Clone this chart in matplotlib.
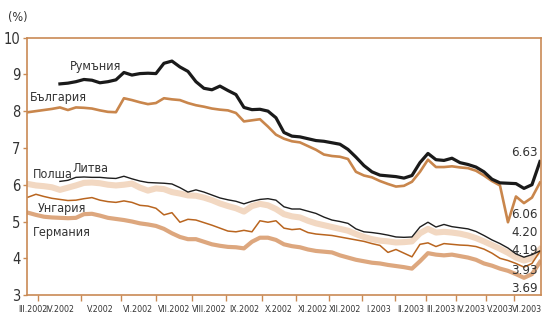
import numpy as np
import matplotlib
matplotlib.use("Agg")
import matplotlib.pyplot as plt

nan = np.nan

# стойности, отчетени от графиката (седмични точки)
rumania = [nan, nan, nan, nan,
           8.74, 8.76, 8.80, 8.86, 8.84, 8.77, 8.80, 8.85, 9.05, 8.98,
           9.02, 9.03, 9.02, 9.30, 9.36, 9.20, 9.08, 8.80, 8.62, 8.58,
           8.68, 8.56, 8.45, 8.10, 8.04, 8.05, 8.00, 7.82, 7.42, 7.32,
           7.30, 7.25, 7.20, 7.18, 7.14, 7.10, 6.96, 6.75, 6.52, 6.35,
           6.26, 6.24, 6.22, 6.18, 6.25, 6.60, 6.85, 6.68, 6.66, 6.72,
           6.60, 6.55, 6.48, 6.35, 6.15, 6.05, 6.04, 6.03, 5.90, 6.00,
           6.63]
bulgaria = [7.97, 8.00, 8.03, 8.06, 8.10, 8.03, 8.10, 8.09, 8.07, 8.02,
            7.98, 7.97, 8.35, 8.30, 8.24, 8.19, 8.22, 8.35, 8.32, 8.30,
            8.22, 8.16, 8.12, 8.07, 8.04, 8.02, 7.95, 7.72, 7.75, 7.78,
            7.58, 7.36, 7.25, 7.18, 7.15, 7.05, 6.95, 6.82, 6.78, 6.76,
            6.70, 6.35, 6.25, 6.20, 6.10, 6.02, 5.95, 5.97, 6.08, 6.35,
            6.68, 6.48, 6.48, 6.50, 6.47, 6.45, 6.38, 6.25, 6.10, 5.98,
            4.98, 5.68, 5.50, 5.65, 6.06]
litva = [nan, nan, nan, nan,
         6.09, 6.12, 6.20, 6.21, 6.20, 6.20, 6.18, 6.17, 6.23, 6.16,
         6.10, 6.06, 6.05, 6.04, 6.02, 5.92, 5.80, 5.86, 5.80, 5.72,
         5.64, 5.59, 5.55, 5.48, 5.55, 5.60, 5.62, 5.58, 5.40, 5.34,
         5.34, 5.28, 5.22, 5.12, 5.04, 5.00, 4.95, 4.80, 4.72, 4.70,
         4.67, 4.63, 4.58, 4.57, 4.58, 4.85, 4.98, 4.85, 4.92, 4.86,
         4.83, 4.80, 4.73, 4.62, 4.50, 4.40, 4.28, 4.12, 4.03, 4.10,
         4.20]
polsha = [6.02, 5.98, 5.96, 5.93, 5.86, 5.92, 5.98, 6.05, 6.06, 6.04,
          6.00, 5.98, 6.00, 6.03, 5.92, 5.84, 5.90, 5.88, 5.80, 5.76,
          5.71, 5.70, 5.65, 5.58, 5.49, 5.42, 5.36, 5.27, 5.42, 5.48,
          5.44, 5.34, 5.20, 5.14, 5.11, 5.02, 4.95, 4.90, 4.85, 4.80,
          4.75, 4.66, 4.58, 4.52, 4.48, 4.46, 4.43, 4.44, 4.46, 4.68,
          4.80, 4.70, 4.72, 4.70, 4.67, 4.62, 4.55, 4.46, 4.36, 4.26,
          4.15, 4.02, 3.94, 4.00, 4.24]
ungaria = [5.66, 5.74, 5.68, 5.63, 5.60, 5.57, 5.58, 5.62, 5.65, 5.58,
           5.54, 5.52, 5.56, 5.52, 5.44, 5.42, 5.36, 5.18, 5.24, 4.98,
           5.06, 5.04, 4.97, 4.90, 4.82, 4.74, 4.72, 4.76, 4.72, 5.02,
           4.98, 5.02, 4.82, 4.78, 4.80, 4.70, 4.66, 4.64, 4.62, 4.58,
           4.54, 4.50, 4.46, 4.40, 4.35, 4.16, 4.24, 4.14, 4.04, 4.38,
           4.42, 4.32, 4.40, 4.38, 4.36, 4.35, 4.32, 4.25, 4.14, 4.00,
           3.94, 3.86, 3.76, 3.86, 4.19]
germania = [5.24, 5.18, 5.13, 5.11, 5.10, 5.09, 5.10, 5.20, 5.21, 5.16,
            5.10, 5.07, 5.04, 5.00, 4.95, 4.92, 4.88, 4.80, 4.68, 4.58,
            4.52, 4.52, 4.45, 4.38, 4.34, 4.31, 4.30, 4.27, 4.45, 4.56,
            4.56, 4.50, 4.38, 4.33, 4.30, 4.24, 4.20, 4.18, 4.16, 4.08,
            4.02, 3.96, 3.92, 3.88, 3.86, 3.82, 3.79, 3.76, 3.72, 3.92,
            4.14, 4.10, 4.08, 4.10, 4.06, 4.02, 3.96, 3.86, 3.80, 3.72,
            3.66, 3.57, 3.47, 3.57, 3.90]

meseci = ['III.2002', 'IV.2002', 'V.2002', 'VI.2002', 'VII.2002', 'VIII.2002',
          'IX.2002', 'X.2002', 'XI.2002', 'XII.2002', 'I.2003', 'II.2003',
          'III.2003', 'IV.2003', 'V.2003', 'VI.2003']
kraj_na_mesec = [1.25, 6.6, 11.6, 16.0, 20.5, 24.75, 29.25, 33.5, 37.6,
                 41.75, 45.9, 49.75, 53.5, 57.25, 60.75]
krajni = ['6.63', '6.06', '4.20', '4.19', '3.93', '3.69']

x = np.arange(len(bulgaria))
x0, x1 = -0.06, 64.1

rama = '#c98a55'
plt.rcParams['font.family'] = ['DejaVu Sans']
plt.rcParams['font.stretch'] = 'condensed'

fig = plt.figure(figsize=(5.49, 3.18), dpi=100)
ax = fig.add_axes([0.050, 0.072, 0.935, 0.810])

ax.plot(x, polsha, color='#f2d8c2', lw=4.4, solid_joinstyle='round')
ax.plot(x, germania, color='#dda77e', lw=3.0)
ax.plot(x, ungaria, color='#b9651f', lw=1.1)
ax.plot(x, litva, color='#1e1e1e', lw=1.0)
ax.plot(x, bulgaria, color='#c9864c', lw=1.9)
ax.plot(x, rumania, color='#1a1a1a', lw=2.3)

ax.set_xlim(x0, x1)
ax.set_ylim(3, 10)
ax.set_yticks(range(3, 11))
ax.tick_params(axis='y', length=3, width=1, color=rama, labelsize=10.5,
               labelcolor='#333333', pad=2)

granici = [x0] + kraj_na_mesec + [x1]
sredini = [(a + b) / 2 for a, b in zip(granici[:-1], granici[1:])]
ax.set_xticks(kraj_na_mesec)
ax.set_xticklabels([])
ax.set_xticks(sredini, minor=True)
ax.set_xticklabels(meseci, minor=True)
ax.tick_params(axis='x', which='major', length=4, width=1, color=rama)
ax.tick_params(axis='x', which='minor', length=0, labelsize=6.3,
               labelcolor='#333333', pad=7)

for s in ax.spines.values():
    s.set_color(rama)
    s.set_linewidth(1.2)

fig.text(0.032, 0.945, '(%)', fontsize=9, color='#333333', ha='center', va='center')

lab = dict(fontsize=9, color='#333333', ha='center', va='center')
ax.text(8.4, 9.20, 'Румъния', **lab)
ax.text(3.8, 8.38, 'България', **lab)
ax.text(3.1, 6.29, 'Полша', **lab)
ax.text(7.8, 6.43, 'Литва', **lab)
ax.text(4.2, 5.35, 'Унгария', **lab)
ax.text(4.2, 4.70, 'Германия', **lab)

ypos = [6.88, 5.18, 4.69, 4.22, 3.67, 3.18]
for t, yy in zip(krajni, ypos):
    ax.text(63.7, yy, t, fontsize=9.5, color='#333333', ha='right', va='center')

fig.savefig('out.png', dpi=100)
